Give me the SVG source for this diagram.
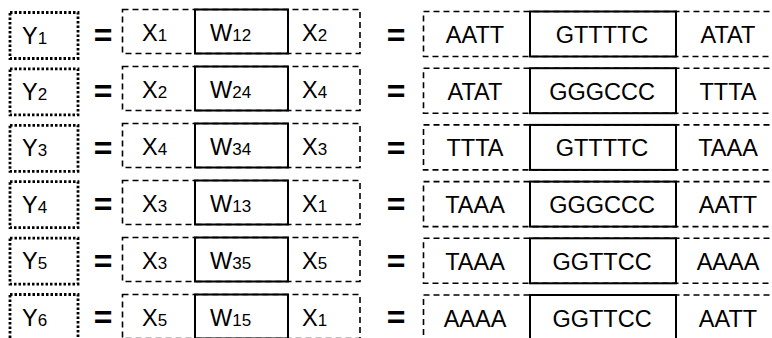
<svg xmlns="http://www.w3.org/2000/svg" width="772" height="338" viewBox="0 0 772 338">
<style>
.dot{fill:none;stroke:#000;stroke-width:2.8;stroke-dasharray:2.5,2}
.dash{fill:none;stroke:#000;stroke-width:1.6;stroke-dasharray:6,4}
.solid{fill:none;stroke:#000;stroke-width:2}
text{font-family:"Liberation Sans",Arial,sans-serif;font-size:23.5px;fill:#000}
.m{text-anchor:middle}
.s{font-size:17px}
.eq{font-size:32px;font-weight:bold;text-anchor:middle}
</style>
<g id="row1">
<rect class="dot" x="10" y="12.5" width="68" height="46"/>
<text x="22" y="43.5">Y<tspan class="s">1</tspan></text>
<text class="eq" x="103" y="46">=</text>
<rect class="dash" x="122.5" y="9.5" width="237.5" height="44"/>
<rect class="solid" x="195" y="9.5" width="93" height="44"/>
<text x="142" y="40.5">X<tspan class="s">1</tspan></text>
<text x="210" y="40.5">W<tspan class="s">12</tspan></text>
<text x="302" y="40.5">X<tspan class="s">2</tspan></text>
<text class="eq" x="396" y="46">=</text>
<rect class="dash" x="423.5" y="11.5" width="360" height="45"/>
<rect class="solid" x="530" y="11.5" width="146" height="45"/>
<text class="m" x="475" y="43">AATT</text>
<text class="m" x="602" y="43">GTTTTC</text>
<text class="m" x="728" y="43">ATAT</text>
</g>
<g id="row2">
<rect class="dot" x="10" y="68.9" width="68" height="46"/>
<text x="22" y="99.9">Y<tspan class="s">2</tspan></text>
<text class="eq" x="103" y="102.4">=</text>
<rect class="dash" x="122.5" y="66.5" width="237.5" height="44"/>
<rect class="solid" x="195" y="66.5" width="93" height="44"/>
<text x="142" y="97.5">X<tspan class="s">2</tspan></text>
<text x="210" y="97.5">W<tspan class="s">24</tspan></text>
<text x="302" y="97.5">X<tspan class="s">4</tspan></text>
<text class="eq" x="396" y="102.4">=</text>
<rect class="dash" x="423.5" y="68.2" width="360" height="45"/>
<rect class="solid" x="530" y="68.2" width="146" height="45"/>
<text class="m" x="475" y="99.7">ATAT</text>
<text class="m" x="602" y="99.7">GGGCCC</text>
<text class="m" x="728" y="99.7">TTTA</text>
</g>
<g id="row3">
<rect class="dot" x="10" y="125.3" width="68" height="46"/>
<text x="22" y="156.3">Y<tspan class="s">3</tspan></text>
<text class="eq" x="103" y="158.8">=</text>
<rect class="dash" x="122.5" y="123.5" width="237.5" height="44"/>
<rect class="solid" x="195" y="123.5" width="93" height="44"/>
<text x="142" y="154.5">X<tspan class="s">4</tspan></text>
<text x="210" y="154.5">W<tspan class="s">34</tspan></text>
<text x="302" y="154.5">X<tspan class="s">3</tspan></text>
<text class="eq" x="396" y="158.8">=</text>
<rect class="dash" x="423.5" y="124.9" width="360" height="45"/>
<rect class="solid" x="530" y="124.9" width="146" height="45"/>
<text class="m" x="475" y="156.4">TTTA</text>
<text class="m" x="602" y="156.4">GTTTTC</text>
<text class="m" x="728" y="156.4">TAAA</text>
</g>
<g id="row4">
<rect class="dot" x="10" y="181.7" width="68" height="46"/>
<text x="22" y="212.7">Y<tspan class="s">4</tspan></text>
<text class="eq" x="103" y="215.2">=</text>
<rect class="dash" x="122.5" y="180.5" width="237.5" height="44"/>
<rect class="solid" x="195" y="180.5" width="93" height="44"/>
<text x="142" y="211.5">X<tspan class="s">3</tspan></text>
<text x="210" y="211.5">W<tspan class="s">13</tspan></text>
<text x="302" y="211.5">X<tspan class="s">1</tspan></text>
<text class="eq" x="396" y="215.2">=</text>
<rect class="dash" x="423.5" y="181.6" width="360" height="45"/>
<rect class="solid" x="530" y="181.6" width="146" height="45"/>
<text class="m" x="475" y="213.1">TAAA</text>
<text class="m" x="602" y="213.1">GGGCCC</text>
<text class="m" x="728" y="213.1">AATT</text>
</g>
<g id="row5">
<rect class="dot" x="10" y="238.1" width="68" height="46"/>
<text x="22" y="269.1">Y<tspan class="s">5</tspan></text>
<text class="eq" x="103" y="271.6">=</text>
<rect class="dash" x="122.5" y="237.5" width="237.5" height="44"/>
<rect class="solid" x="195" y="237.5" width="93" height="44"/>
<text x="142" y="268.5">X<tspan class="s">3</tspan></text>
<text x="210" y="268.5">W<tspan class="s">35</tspan></text>
<text x="302" y="268.5">X<tspan class="s">5</tspan></text>
<text class="eq" x="396" y="271.6">=</text>
<rect class="dash" x="423.5" y="238.3" width="360" height="45"/>
<rect class="solid" x="530" y="238.3" width="146" height="45"/>
<text class="m" x="475" y="269.8">TAAA</text>
<text class="m" x="602" y="269.8">GGTTCC</text>
<text class="m" x="728" y="269.8">AAAA</text>
</g>
<g id="row6">
<rect class="dot" x="10" y="294.5" width="68" height="46"/>
<text x="22" y="325.5">Y<tspan class="s">6</tspan></text>
<text class="eq" x="103" y="328">=</text>
<rect class="dash" x="122.5" y="294.5" width="237.5" height="44"/>
<rect class="solid" x="195" y="294.5" width="93" height="44"/>
<text x="142" y="325.5">X<tspan class="s">5</tspan></text>
<text x="210" y="325.5">W<tspan class="s">15</tspan></text>
<text x="302" y="325.5">X<tspan class="s">1</tspan></text>
<text class="eq" x="396" y="328">=</text>
<rect class="dash" x="423.5" y="295" width="360" height="45"/>
<rect class="solid" x="530" y="295" width="146" height="45"/>
<text class="m" x="475" y="326.5">AAAA</text>
<text class="m" x="602" y="326.5">GGTTCC</text>
<text class="m" x="728" y="326.5">AATT</text>
</g>
</svg>
